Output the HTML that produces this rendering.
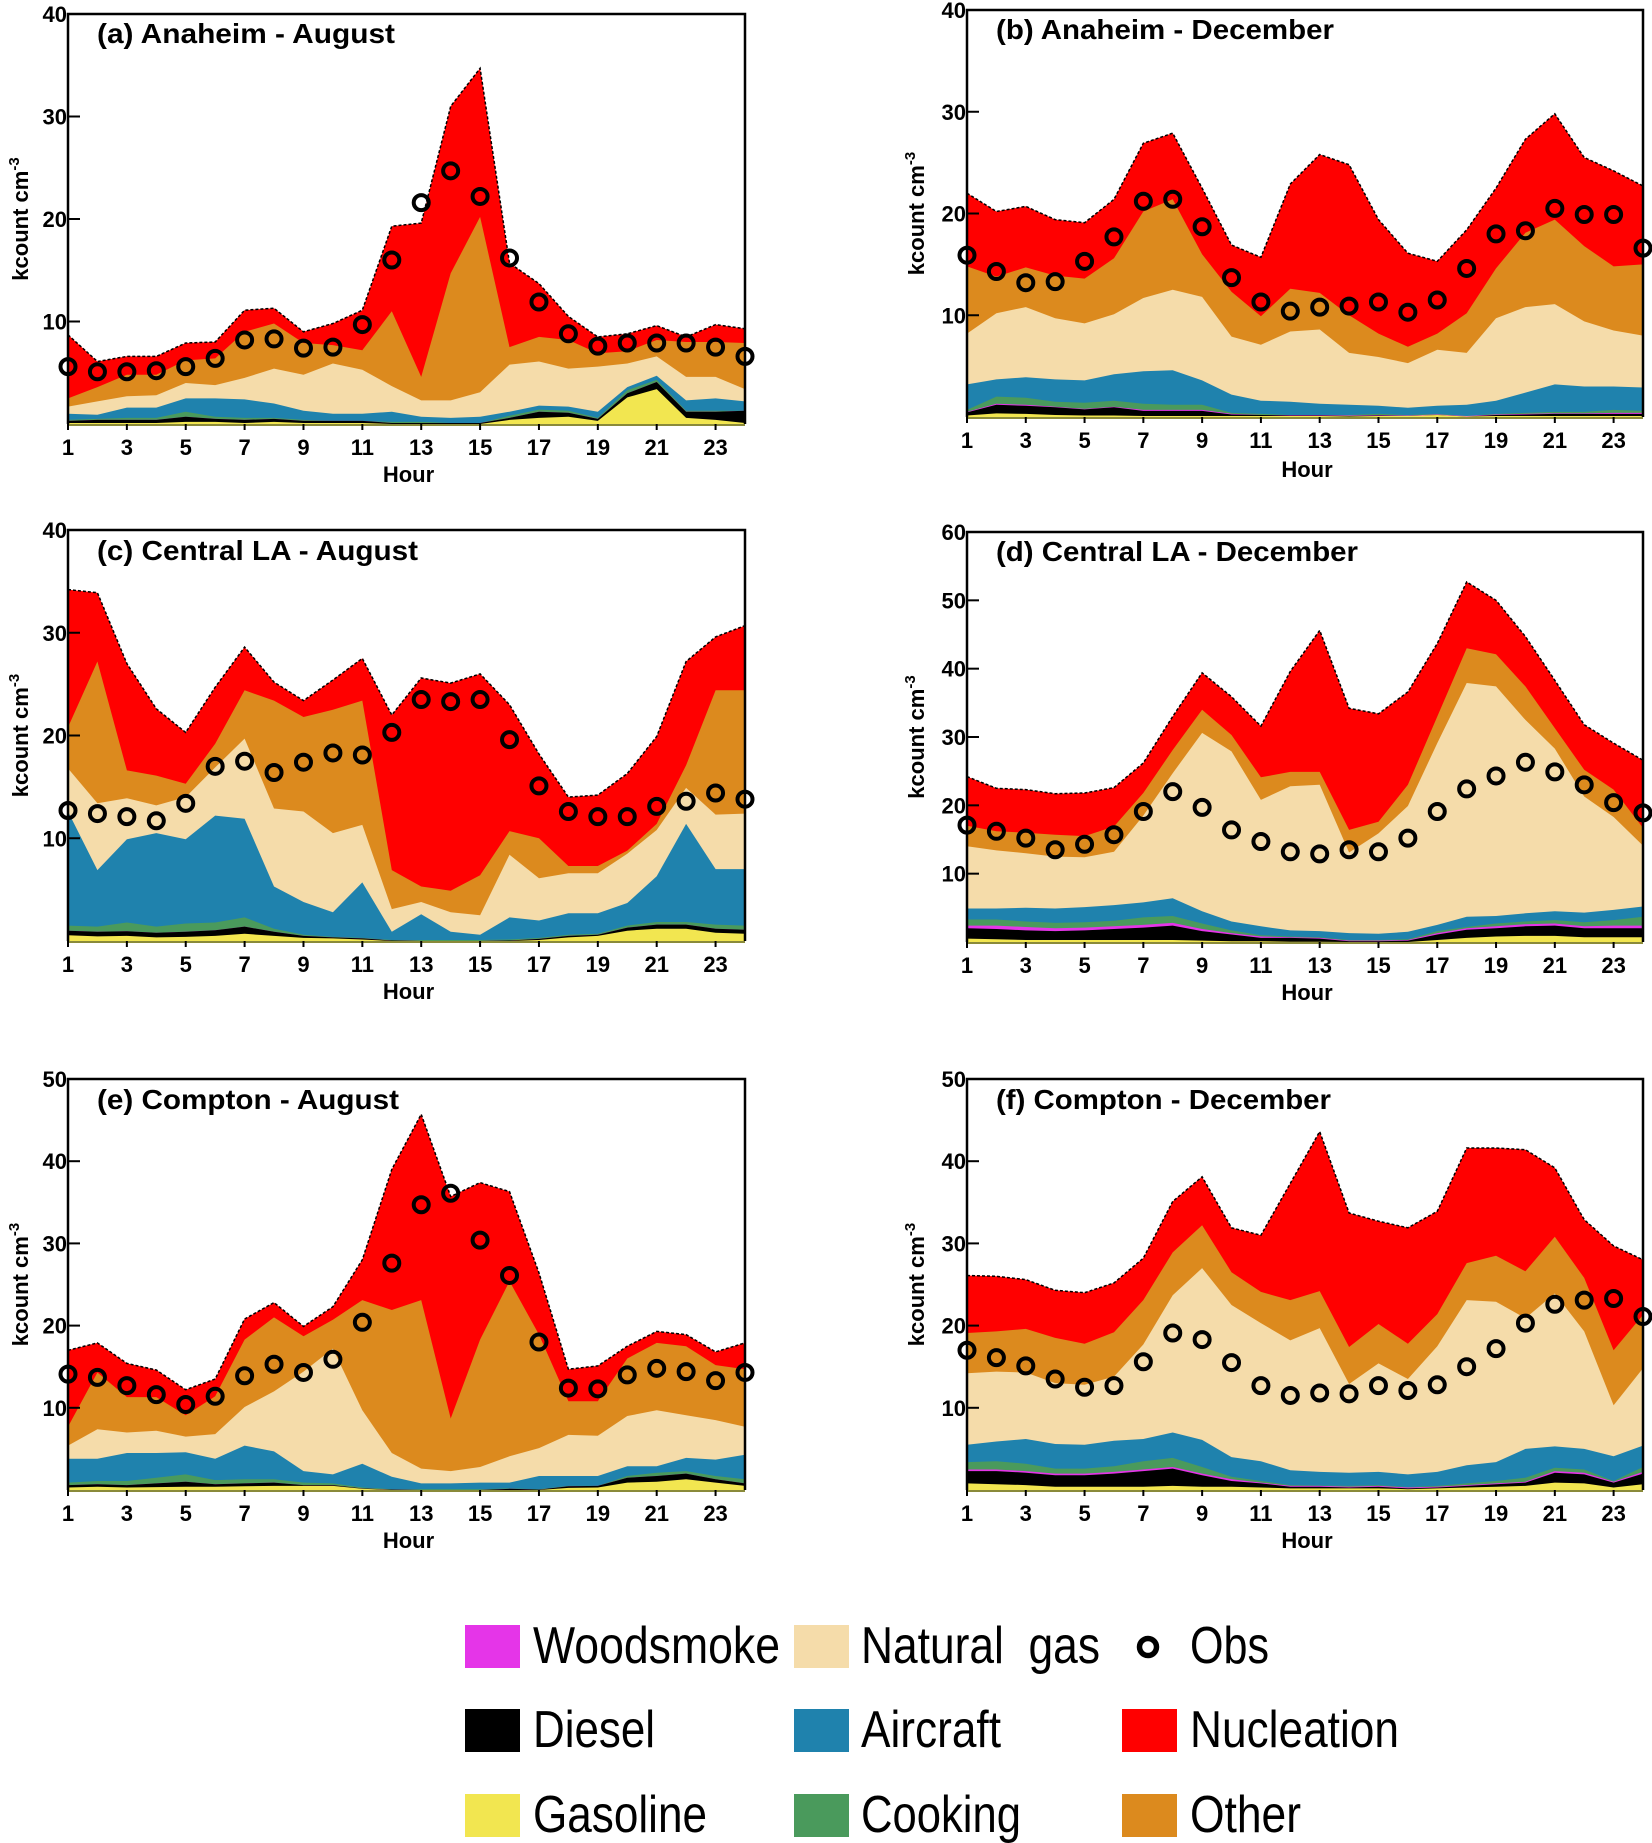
<!DOCTYPE html>
<html><head><meta charset="utf-8">
<style>
html,body{margin:0;padding:0;background:#fff;}
svg{display:block;}
text{font-family:"Liberation Sans Narrow","Liberation Sans",sans-serif;}
</style></head>
<body>
<svg id="fig" width="1652" height="1843" viewBox="0 0 1652 1843" xmlns="http://www.w3.org/2000/svg">
<g id="panels"></g>
<g id="legend">
  <rect x="465" y="1625" width="55" height="43" fill="#e535e8"/>
  <text x="533" y="1663" font-size="52" textLength="247" lengthAdjust="spacingAndGlyphs">Woodsmoke</text>
  <rect x="794" y="1625" width="55" height="43" fill="#f5dcaa"/>
  <text x="861" y="1663" font-size="52" textLength="239" lengthAdjust="spacingAndGlyphs" xml:space="preserve">Natural  gas</text>
  <circle cx="1148" cy="1647" r="8.5" fill="none" stroke="#000" stroke-width="5.5"/>
  <text x="1190" y="1663" font-size="52" textLength="79" lengthAdjust="spacingAndGlyphs">Obs</text>
  <rect x="465" y="1709" width="55" height="43" fill="#000"/>
  <text x="533" y="1747" font-size="52" textLength="122" lengthAdjust="spacingAndGlyphs">Diesel</text>
  <rect x="794" y="1709" width="55" height="43" fill="#1f82ad"/>
  <text x="861" y="1747" font-size="52" textLength="140" lengthAdjust="spacingAndGlyphs">Aircraft</text>
  <rect x="1122" y="1709" width="55" height="43" fill="#ff0000"/>
  <text x="1190" y="1747" font-size="52" textLength="209" lengthAdjust="spacingAndGlyphs">Nucleation</text>
  <rect x="465" y="1794" width="55" height="43" fill="#f2e650"/>
  <text x="533" y="1832" font-size="52" textLength="174" lengthAdjust="spacingAndGlyphs">Gasoline</text>
  <rect x="794" y="1794" width="55" height="43" fill="#4a9a5c"/>
  <text x="861" y="1832" font-size="52" textLength="160" lengthAdjust="spacingAndGlyphs">Cooking</text>
  <rect x="1122" y="1794" width="55" height="43" fill="#dc8a1e"/>
  <text x="1190" y="1832" font-size="52" textLength="111" lengthAdjust="spacingAndGlyphs">Other</text>
</g>
</svg>
<script>
// Hours (x categories)
const hours = [1,2,3,4,5,6,7,8,9,10,11,12,13,14,15,16,17,18,19,20,21,22,23,24];
const xTickLabels = [1,3,5,7,9,11,13,15,17,19,21,23];

// Stacked boundaries (cumulative tops, kcount cm^-3) per panel
// (a) Anaheim - August
const a_total    = [8.7,6.1,6.6,6.6,7.9,8.0,11.1,11.3,9.0,9.8,11.1,19.3,19.6,31.0,34.7,15.7,13.7,10.5,8.5,8.8,9.6,8.5,9.7,9.3];
const a_other    = [2.5,3.6,4.8,4.8,6.2,6.4,9.0,9.8,7.9,7.7,7.2,11.0,4.6,14.7,20.2,7.5,8.5,8.2,6.9,7.1,8.2,8.0,8.0,7.9];
const a_natgas   = [1.7,2.2,2.7,2.8,4.0,3.8,4.5,5.4,4.8,5.9,5.3,3.7,2.3,2.3,3.1,5.8,6.1,5.4,5.6,5.9,6.6,4.6,4.6,3.4];
const a_aircraft = [1.0,0.9,1.6,1.6,2.5,2.5,2.4,2.0,1.3,1.0,1.0,1.2,0.7,0.6,0.7,1.2,1.8,1.7,1.2,3.6,4.7,2.3,2.5,2.2];
const a_cooking  = [0.4,0.5,0.6,0.6,1.2,0.7,0.6,0.6,0.4,0.3,0.3,0.2,0.2,0.1,0.1,0.8,1.4,1.3,0.6,3.3,4.3,1.3,1.3,1.3];
const a_wood     = [0.3,0.4,0.4,0.4,0.7,0.5,0.4,0.5,0.3,0.3,0.3,0.1,0.1,0.1,0.1,0.6,1.2,1.1,0.5,3.0,4.1,1.2,1.2,1.3];
const a_diesel   = [0.3,0.4,0.4,0.4,0.7,0.5,0.4,0.5,0.3,0.3,0.3,0.1,0.1,0.1,0.1,0.6,1.2,1.1,0.5,3.0,4.1,1.2,1.2,1.3];
const a_gasoline = [0.1,0.1,0.1,0.1,0.2,0.2,0.1,0.2,0.1,0.1,0.1,0,0,0,0,0.4,0.6,0.7,0.3,2.6,3.4,0.6,0.4,0.1];
const a_obs      = [5.6,5.1,5.1,5.2,5.6,6.4,8.2,8.3,7.4,7.5,9.7,16.0,21.6,24.7,22.2,16.2,11.9,8.8,7.6,7.9,7.9,7.9,7.5,6.6];

// (b) Anaheim - December
const b_total    = [22.0,20.2,20.7,19.4,19.1,21.4,26.9,27.9,22.5,16.9,15.7,22.9,25.8,24.8,19.4,16.1,15.3,18.4,22.5,27.3,29.8,25.5,24.2,22.7];
const b_other    = [14.8,13.8,14.7,13.9,13.6,15.6,20.2,21.4,16.0,12.3,9.9,12.6,12.2,10.0,8.2,6.9,8.2,10.2,14.6,18.1,19.4,16.8,14.8,15.0];
const b_natgas   = [8.2,10.2,10.8,9.7,9.2,10.1,11.7,12.5,11.8,7.9,7.1,8.4,8.6,6.3,5.9,5.3,6.6,6.3,9.7,10.8,11.1,9.4,8.5,8.0];
const b_aircraft = [3.2,3.7,3.9,3.7,3.6,4.2,4.5,4.6,3.6,2.2,1.6,1.5,1.3,1.2,1.1,0.9,1.1,1.2,1.6,2.4,3.2,3.0,3.0,2.9];
const b_cooking  = [0.7,2.0,1.9,1.5,1.4,1.6,1.3,1.2,1.2,0.4,0.3,0.2,0.2,0.2,0.3,0.2,0.3,0.1,0.3,0.4,0.5,0.5,0.7,0.6];
const b_wood     = [0.5,1.3,1.2,1.0,0.8,1.0,0.7,0.7,0.7,0.3,0.2,0.2,0.2,0.15,0.2,0.15,0.25,0.1,0.25,0.3,0.35,0.35,0.4,0.4];
const b_diesel   = [0.45,1.2,1.1,0.95,0.75,0.95,0.6,0.6,0.6,0.25,0.2,0.15,0.15,0.1,0.15,0.1,0.2,0.05,0.2,0.25,0.3,0.3,0.3,0.3];
const b_gasoline = [0.15,0.35,0.3,0.2,0.15,0.15,0.1,0.1,0.1,0.1,0.1,0.1,0.1,0.05,0.1,0.1,0.2,0.05,0.1,0.1,0.1,0.1,0.1,0.1];
const b_obs      = [15.9,14.3,13.2,13.3,15.3,17.7,21.2,21.4,18.7,13.7,11.3,10.4,10.8,10.9,11.3,10.3,11.5,14.6,18.0,18.3,20.5,19.9,19.9,16.6];

// (c) Central LA - August
const c_total    = [34.2,33.9,27.0,22.6,20.3,24.7,28.6,25.2,23.4,25.4,27.5,22.0,25.6,25.1,26.0,23.0,18.2,14.0,14.2,16.3,19.9,27.2,29.6,30.7];
const c_other    = [20.8,27.2,16.6,16.1,15.3,19.2,24.4,23.4,21.8,22.5,23.4,6.9,5.3,4.9,6.4,10.7,10.0,7.3,7.3,8.8,11.4,17.1,24.4,24.4];
const c_natgas   = [16.8,13.4,13.9,13.2,14.0,16.9,19.7,12.9,12.6,10.5,11.3,3.1,3.8,2.8,2.5,8.4,6.1,6.6,6.6,8.5,10.8,14.9,12.3,12.4];
const c_aircraft = [12.6,6.9,9.9,10.5,9.9,12.2,11.9,5.3,3.8,2.8,5.7,0.9,2.6,0.9,0.6,2.3,2.0,2.7,2.7,3.7,6.3,11.4,7.0,7.0];
const c_cooking  = [1.5,1.4,1.8,1.4,1.7,1.8,2.3,1.2,0.6,0.4,0.3,0.1,0.1,0.1,0.1,0.15,0.3,0.6,0.7,1.5,1.85,1.85,1.6,1.5];
const c_wood     = [1.0,0.9,0.95,0.8,0.9,1.05,1.4,0.9,0.5,0.35,0.25,0.05,0,0,0,0.05,0.2,0.5,0.6,1.3,1.6,1.6,1.2,1.1];
const c_diesel   = [1.0,0.9,0.95,0.8,0.9,1.05,1.4,0.9,0.5,0.35,0.25,0.05,0,0,0,0.05,0.2,0.5,0.6,1.3,1.6,1.6,1.2,1.1];
const c_gasoline = [0.55,0.45,0.5,0.35,0.4,0.5,0.7,0.5,0.3,0.25,0.15,0,0,0,0,0,0.1,0.35,0.5,1.0,1.2,1.2,0.8,0.7];
const c_obs      = [12.7,12.4,12.1,11.7,13.4,17.0,17.5,16.4,17.4,18.3,18.1,20.3,23.5,23.3,23.5,19.6,15.1,12.6,12.1,12.1,13.1,13.6,14.4,13.8];

// (d) Central LA - December
const d_total    = [24.2,22.5,22.3,21.7,21.8,22.6,26.2,33.0,39.4,35.9,31.6,39.6,45.6,34.2,33.4,36.6,43.7,52.7,50.0,44.7,38.3,31.8,29.1,26.6];
const d_other    = [17.0,16.2,16.0,15.7,15.5,16.9,21.8,28.1,34.0,30.3,24.1,24.9,24.9,16.4,17.6,23.0,33.0,43.0,42.1,37.4,31.3,25.2,22.3,16.7];
const d_natgas   = [14.0,13.4,13.0,12.5,12.4,13.2,18.5,24.7,30.6,27.9,20.8,22.8,23.0,13.1,15.9,19.9,29.1,37.9,37.4,32.5,28.3,21.3,18.3,14.1];
const d_aircraft = [4.9,4.9,5.0,4.9,5.1,5.4,5.8,6.4,4.5,3.0,2.3,1.7,1.6,1.3,1.2,1.5,2.5,3.7,3.8,4.2,4.5,4.3,4.7,5.2];
const d_cooking  = [3.3,3.3,3.0,2.8,2.9,3.1,3.6,3.8,2.7,1.7,1.0,0.8,0.7,0.3,0.3,0.4,1.6,2.2,2.7,3.0,3.2,2.9,3.2,3.7];
const d_wood     = [2.4,2.4,2.2,2.0,2.1,2.3,2.5,2.8,1.9,1.3,0.8,0.7,0.6,0.2,0.2,0.3,1.3,2.0,2.3,2.6,2.7,2.3,2.4,2.4];
const d_diesel   = [2.0,1.9,1.7,1.6,1.7,1.9,2.1,2.4,1.6,1.1,0.6,0.6,0.5,0.1,0.1,0.2,1.1,1.8,2.0,2.3,2.4,2.0,2.0,2.0];
const d_gasoline = [0.5,0.4,0.3,0.3,0.3,0.3,0.3,0.3,0.2,0.1,0.1,0.05,0.05,0,0,0,0.3,0.6,0.8,0.9,0.9,0.7,0.7,0.7];
const d_obs      = [17.1,16.2,15.2,13.5,14.3,15.7,19.1,22.0,19.7,16.4,14.7,13.2,12.9,13.5,13.2,15.2,19.1,22.4,24.3,26.3,24.9,23.0,20.4,18.9];

// (e) Compton - August
const e_total    = [17.0,17.9,15.4,14.6,12.2,13.5,20.8,22.8,19.9,22.3,28.0,39.0,45.7,35.7,37.4,36.3,26.4,14.7,15.1,17.5,19.3,18.9,16.8,17.9];
const e_other    = [7.7,14.3,11.3,11.3,9.1,11.4,18.3,21.0,18.7,20.7,23.1,21.9,23.1,8.7,18.3,25.4,18.9,10.8,10.8,16.0,17.9,17.5,15.2,14.7];
const e_natgas   = [5.4,7.4,7.0,7.2,6.5,6.8,10.1,12.0,14.4,17.2,9.7,4.5,2.6,2.3,2.8,4.1,5.1,6.7,6.6,9.0,9.7,9.1,8.5,7.7];
const e_aircraft = [3.8,3.8,4.5,4.5,4.6,3.8,5.4,4.7,2.3,1.9,3.2,1.6,0.8,0.8,0.9,0.9,1.7,1.7,1.7,2.9,2.9,3.9,3.7,4.3];
const e_cooking  = [0.9,1.1,1.1,1.5,1.9,1.2,1.3,1.3,0.9,0.8,0.3,0.1,0.1,0.1,0.1,0.2,0.1,0.5,0.5,1.7,2.1,2.3,1.7,1.3];
const e_wood     = [0.6,0.7,0.6,0.8,1.0,0.7,0.8,0.9,0.6,0.6,0.2,0.05,0,0,0,0.15,0.05,0.45,0.5,1.5,1.7,2.0,1.3,0.8];
const e_diesel   = [0.6,0.7,0.6,0.8,1.0,0.7,0.8,0.9,0.6,0.6,0.2,0.05,0,0,0,0.15,0.05,0.45,0.5,1.5,1.7,2.0,1.3,0.8];
const e_gasoline = [0.3,0.4,0.3,0.35,0.4,0.4,0.45,0.5,0.5,0.5,0.15,0,0,0,0,0,0,0.25,0.3,0.9,1.0,1.3,0.9,0.5];
const e_obs      = [14.1,13.7,12.7,11.6,10.4,11.4,13.9,15.3,14.3,15.9,20.4,27.6,34.7,36.1,30.4,26.1,18.0,12.4,12.3,14.0,14.8,14.4,13.3,14.3];

// (f) Compton - December
const f_total    = [26.1,26.0,25.6,24.3,24.0,25.2,28.2,35.1,38.1,31.9,31.0,37.3,43.6,33.7,32.7,31.9,33.9,41.6,41.6,41.4,39.2,32.9,29.7,28.0];
const f_other    = [19.1,19.3,19.6,18.5,17.8,19.2,23.1,28.9,32.2,26.5,24.1,23.1,24.2,17.4,20.2,17.8,21.4,27.6,28.5,26.6,30.8,25.8,17.0,21.3];
const f_natgas   = [14.2,14.4,14.3,13.0,12.8,13.8,17.7,23.7,27.0,22.5,20.3,18.2,19.7,12.9,15.4,13.5,17.5,23.1,22.9,20.9,23.9,19.3,10.3,14.8];
const f_aircraft = [5.5,5.9,6.2,5.6,5.5,6.0,6.2,7.0,6.1,4.0,3.5,2.4,2.2,2.1,2.2,1.9,2.2,3.0,3.4,5.0,5.3,5.0,4.1,5.4];
const f_cooking  = [3.4,3.5,3.2,2.6,2.6,2.9,3.5,3.9,2.8,1.6,1.1,0.6,0.55,0.5,0.6,0.35,0.5,0.8,1.1,1.5,2.7,2.5,1.1,2.8];
const f_wood     = [2.5,2.5,2.3,2.0,2.0,2.2,2.5,2.8,2.0,1.3,0.9,0.5,0.5,0.4,0.5,0.3,0.4,0.6,0.8,1.0,2.3,2.1,1.0,2.2];
const f_diesel   = [2.3,2.3,2.1,1.8,1.8,2.0,2.3,2.6,1.8,1.1,0.8,0.4,0.4,0.3,0.4,0.2,0.3,0.5,0.7,0.9,2.1,1.9,0.9,2.0];
const f_gasoline = [0.8,0.7,0.6,0.4,0.4,0.4,0.4,0.5,0.4,0.4,0.3,0.2,0.2,0.2,0.2,0.1,0.2,0.3,0.4,0.5,0.9,0.8,0.3,0.7];
const f_obs      = [17.0,16.1,15.1,13.5,12.5,12.7,15.6,19.1,18.3,15.5,12.7,11.5,11.8,11.7,12.7,12.1,12.8,15.0,17.2,20.3,22.6,23.1,23.3,21.1];

const panelTitles = ["(a) Anaheim - August","(b) Anaheim - December","(c) Central LA - August","(d) Central LA - December","(e) Compton - August","(f) Compton - December"];
const panelYMax = [40,40,40,60,50,50];
const panelYTicks = [[10,20,30,40],[10,20,30,40],[10,20,30,40],[10,20,30,40,50,60],[10,20,30,40,50],[10,20,30,40,50]];

const NS = "http://www.w3.org/2000/svg";
function mk(tag, attrs, parent){
  const e = document.createElementNS(NS, tag);
  for (const k in attrs) e.setAttribute(k, attrs[k]);
  if (parent) parent.appendChild(e);
  return e;
}
const layerColors = {total:"#ff0000",other:"#dc8a1e",natgas:"#f5dcaa",aircraft:"#1f82ad",cooking:"#4a9a5c",wood:"#e535e8",diesel:"#000000",gasoline:"#f2e650"};
const layerOrder = ["total","other","natgas","aircraft","cooking","wood","diesel","gasoline"];
const layerNames = {total:"nucleation",other:"other",natgas:"natural-gas",aircraft:"aircraft",cooking:"cooking",wood:"woodsmoke",diesel:"diesel",gasoline:"gasoline"};

const panelData = [
 {total:a_total,other:a_other,natgas:a_natgas,aircraft:a_aircraft,cooking:a_cooking,wood:a_wood,diesel:a_diesel,gasoline:a_gasoline,obs:a_obs},
 {total:b_total,other:b_other,natgas:b_natgas,aircraft:b_aircraft,cooking:b_cooking,wood:b_wood,diesel:b_diesel,gasoline:b_gasoline,obs:b_obs},
 {total:c_total,other:c_other,natgas:c_natgas,aircraft:c_aircraft,cooking:c_cooking,wood:c_wood,diesel:c_diesel,gasoline:c_gasoline,obs:c_obs},
 {total:d_total,other:d_other,natgas:d_natgas,aircraft:d_aircraft,cooking:d_cooking,wood:d_wood,diesel:d_diesel,gasoline:d_gasoline,obs:d_obs},
 {total:e_total,other:e_other,natgas:e_natgas,aircraft:e_aircraft,cooking:e_cooking,wood:e_wood,diesel:e_diesel,gasoline:e_gasoline,obs:e_obs},
 {total:f_total,other:f_other,natgas:f_natgas,aircraft:f_aircraft,cooking:f_cooking,wood:f_wood,diesel:f_diesel,gasoline:f_gasoline,obs:f_obs}
];
// layout
const geo = [
 {x0:68,x1:745,top:14,bot:424,tx:97,tw:298,tb:43,ylx:20,hb:482},
 {x0:967,x1:1643,top:10,bot:417,tx:996,tw:338,tb:39,ylx:916,hb:477},
 {x0:68,x1:745,top:530,bot:941,tx:97,tw:321,tb:560,ylx:20,hb:999},
 {x0:967,x1:1643,top:532,bot:942,tx:996,tw:362,tb:561,ylx:916,hb:1000},
 {x0:68,x1:745,top:1079,bot:1490,tx:97,tw:302,tb:1109,ylx:20,hb:1548},
 {x0:967,x1:1643,top:1079,bot:1490,tx:996,tw:335,tb:1109,ylx:916,hb:1548}
];
const root = document.getElementById('panels');
panelData.forEach((d, pi) => {
  const g = geo[pi], ymax = panelYMax[pi];
  const xs = h => g.x0 + (h-1)*(g.x1-g.x0)/23;
  const ys = v => g.bot - v*(g.bot-g.top)/ymax;
  const pg = mk('g', {}, root);
  
  
  layerOrder.forEach(k => {
    const arr = d[k];
    let pts = hours.map((h,i) => xs(h).toFixed(1)+','+ys(arr[i]).toFixed(1));
    pts.push(xs(24).toFixed(1)+','+g.bot, xs(1).toFixed(1)+','+g.bot);
    const p = mk('polygon', {points: pts.join(' '), fill: layerColors[k]}, pg);
    
    
  });
  const tl = mk('polyline', {points: hours.map((h,i)=>xs(h).toFixed(1)+','+ys(d.total[i]).toFixed(1)).join(' '), fill:'none', stroke:'#000', 'stroke-width':1.5, 'stroke-dasharray':'3,2'}, pg);
  
  
  const fr = mk('path', {d:`M${g.x0},${g.bot} L${g.x0},${g.top} L${g.x1},${g.top} L${g.x1},${g.bot}`, fill:'none', stroke:'#000', 'stroke-width':2.5}, pg);
  
  
  const xa = mk('line', {x1:g.x0, x2:g.x1, y1:g.bot+1, y2:g.bot+1, stroke:'#8a8a3a', 'stroke-width':2}, pg);
  
  
  hours.forEach((h,i) => {
    const c = mk('circle', {cx:xs(h), cy:ys(d.obs[i]), r:7.5, fill:'none', stroke:'#000', 'stroke-width':4}, pg);
    
    
  });
  panelYTicks[pi].forEach(v => {
    const y = ys(v);
    const tk = mk('line', {x1:g.x0, x2:g.x0+12, y1:y, y2:y, stroke:'#000', 'stroke-width':2}, pg);
    
    
    const t = mk('text', {x:g.x0-1, y:y+8, 'text-anchor':'end', 'font-size':22, 'font-weight':'bold'}, pg);
    t.textContent = v;
    
    
  });
  xTickLabels.forEach(h => {
    const tk = mk('line', {x1:xs(h), x2:xs(h), y1:g.bot, y2:g.bot+6, stroke:'#000', 'stroke-width':2}, pg);
    
    
    const t = mk('text', {x:xs(h), y:g.bot+31, 'text-anchor':'middle', 'font-size':22, 'font-weight':'bold'}, pg);
    t.textContent = h;
    
    
  });
  const xt = mk('text', {x:(g.x0+g.x1)/2 + 2, y:g.hb, 'text-anchor':'middle', 'font-size':22, 'font-weight':'bold'}, pg);
  xt.textContent = 'Hour';
  
  
  const yc = (g.top+g.bot)/2;
  const yt = mk('text', {x:g.ylx+8, y:yc, transform:`rotate(-90 ${g.ylx+8} ${yc})`, 'text-anchor':'middle', 'font-size':22, 'font-weight':'bold', style:'font-family:"Liberation Sans",sans-serif'}, pg);
  yt.innerHTML = 'kcount cm<tspan font-size="15" dy="-9">-3</tspan>';
  
  
  const tt = mk('text', {x:g.tx, y:g.tb, 'font-size':28, 'font-weight':'bold', textLength:g.tw, lengthAdjust:'spacingAndGlyphs'}, pg);
  tt.textContent = panelTitles[pi];
  
  
});
</script>
</body></html>
